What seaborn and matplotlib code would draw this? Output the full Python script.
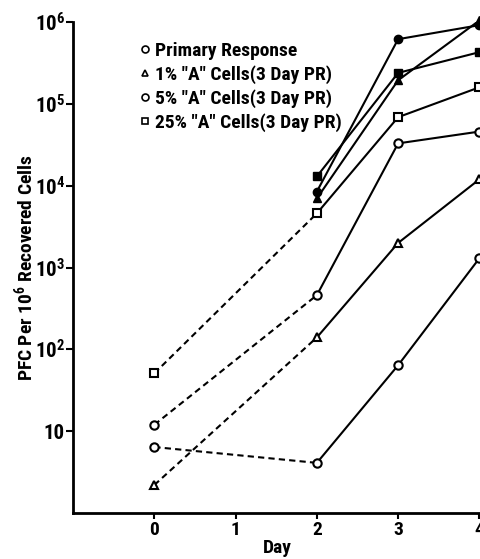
import numpy as np
import pandas as pd
import seaborn as sns
import matplotlib.pyplot as plt
from matplotlib.lines import Line2D
from matplotlib import font_manager

# values
days = [0, 2, 3, 4]
primary = [6.4, 4.1, 64, 1300]
pct1 = [2.2, 140, 2000, 12000]
pct5 = [12, 460, 33000, 46000]
pct25 = [51, 4600, 69000, 160000]

days_late = [2, 3, 4]
pct1_filled = [7000, 195000, 1050000]
pct5_filled = [8500, 620000, 920000]
pct25_filled = [13000, 240000, 430000]

labels = ['Primary Response', '1% "A" Cells(3 Day PR)',
          '5% "A" Cells(3 Day PR)', '25% "A" Cells(3 Day PR)']
ytick_vals = [10, 1e2, 1e3, 1e4, 1e5, 1e6]
ytick_labels = ['10', r'$\mathbf{10^{2}}$', r'$\mathbf{10^{3}}$', r'$\mathbf{10^{4}}$',
                r'$\mathbf{10^{5}}$', r'$\mathbf{10^{6}}$']

# pick a narrow family if one is there, else DejaVu Sans
fam = 'DejaVu Sans'
narrow = False
for cand in ['Liberation Sans Narrow', 'DejaVu Sans Condensed', 'Roboto Condensed',
             'Open Sans Condensed']:
    try:
        font_manager.findfont(font_manager.FontProperties(family=cand),
                              fallback_to_default=False)
        fam = cand
        narrow = True
        break
    except ValueError:
        pass

sns.set_style("ticks")
plt.rcParams['font.family'] = [fam, 'DejaVu Sans']
plt.rcParams['font.weight'] = 'bold'
plt.rcParams['mathtext.fontset'] = 'custom'
plt.rcParams['mathtext.bf'] = fam + ':bold'
plt.rcParams['mathtext.rm'] = fam + ':bold'
for k in ['text.color', 'axes.labelcolor', 'xtick.color', 'ytick.color']:
    plt.rcParams[k] = 'black'

k = 1.0 if narrow else 0.8
fs_ytick = 15 * k
fs_xtick = 14 * k
fs_leg = 14 * k
fs_lab = 14 * k

fig = plt.figure(figsize=(4.81, 5.59), dpi=100)
ax = fig.add_axes([0.152, 0.0823, 0.848, 0.878])

lw = 1.5
ms = 6
open_series = [(primary, 'o'), (pct1, '^'), (pct5, 'o'), (pct25, 's')]
for vals, m in open_series:
    df = pd.DataFrame({'day': days, 'pfc': vals})
    early = df[df.day <= 2]
    late = df[df.day >= 2]
    sns.lineplot(data=early, x='day', y='pfc', ax=ax, color='black', lw=lw,
                 linestyle=(0, (3, 2)), estimator=None, sort=False, zorder=2)
    sns.lineplot(data=late, x='day', y='pfc', ax=ax, color='black', lw=lw,
                 estimator=None, sort=False, zorder=2)
    ax.plot(df.day, df.pfc, linestyle='none', marker=m, ms=ms, mfc='white',
            mec='black', mew=1.5, zorder=4, clip_on=False)

filled_series = [(pct1_filled, '^'), (pct5_filled, 'o'), (pct25_filled, 's')]
for vals, m in filled_series:
    df = pd.DataFrame({'day': days_late, 'pfc': vals})
    sns.lineplot(data=df, x='day', y='pfc', ax=ax, color='black', lw=lw,
                 estimator=None, sort=False, zorder=3)
    ax.plot(df.day, df.pfc, linestyle='none', marker=m, ms=ms, mfc='black',
            mec='black', mew=1.0, zorder=5, clip_on=False)

ax.set_yscale('log')
ax.set_ylim(1, 1e6)
ax.set_xlim(-1.0, 4.02)
ax.set_xticks([0, 1, 2, 3, 4])
ax.set_xticklabels(['0', '1', '2', '3', '4'], fontsize=fs_xtick, fontweight='bold')
ax.set_yticks(ytick_vals)
ax.set_yticklabels(ytick_labels, fontsize=fs_ytick, fontweight='bold')
ax.yaxis.set_minor_locator(plt.NullLocator())
ax.tick_params(axis='both', direction='out', width=1.5, color='black')
ax.tick_params(axis='y', pad=1, length=5)
ax.tick_params(axis='x', pad=2, length=4)

ax.set_xlabel('Day', fontsize=fs_lab, fontweight='bold', labelpad=0)
ax.set_ylabel(r'PFC Per 10$^{\mathbf{6}}$ Recovered Cells', fontsize=fs_lab,
              fontweight='bold')
ax.yaxis.set_label_coords(-0.088, 0.5)
sns.despine(ax=ax)
for s in ['left', 'bottom']:
    ax.spines[s].set_linewidth(2)
    ax.spines[s].set_color('black')

handles = [Line2D([], [], linestyle='none', marker=m, ms=5, mfc='white',
                  mec='black', mew=1.2) for m in ['o', '^', 'o', 's']]
ax.legend(handles, labels, loc='upper left', bbox_to_anchor=(0.143, 0.975),
          frameon=False, handletextpad=0.2, handlelength=0.6,
          labelspacing=0.26, borderaxespad=0.0,
          prop={'size': fs_leg, 'weight': 'bold'})

fig.savefig('out.png', dpi=100)
